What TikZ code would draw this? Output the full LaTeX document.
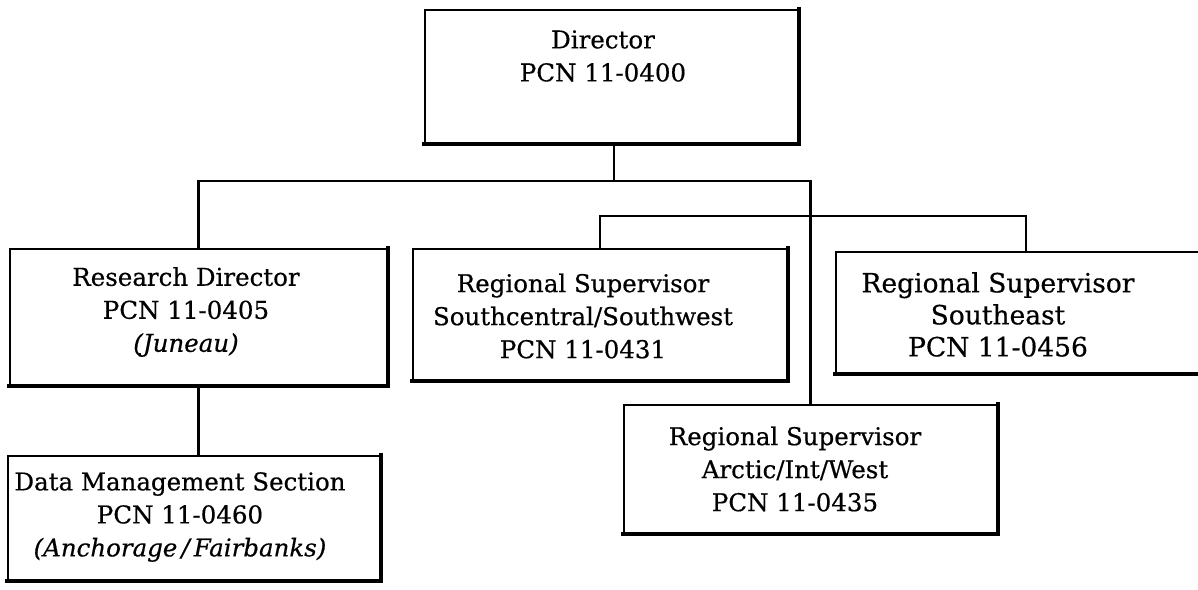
\documentclass[tikz,border=0pt]{standalone}
\usepackage{fontspec}
\setmainfont{DejaVu Serif}[FakeBold=0.5]
\begin{document}
\begin{tikzpicture}[x=1pt,y=-1pt,
  box/.style={draw, line width=2pt, inner sep=0pt},
  lbl/.style={align=center, inner sep=0pt, font=\fontsize{24.5}{33}\selectfont},
  biglbl/.style={align=center, inner sep=0pt, font=\fontsize{26.5}{32}\selectfont},
  edge/.style={line width=4.5pt, line cap=rect},
  conn/.style={line width=2.2pt}]
\useasboundingbox[fill=white] (0,0) rectangle (1198,589);
% boxes
\node[box, minimum width=373pt, minimum height=133pt] (dir) at (611.5,76.5) {};
\node[box, minimum width=377pt, minimum height=136pt] (rd) at (198.5,317) {};
\node[box, minimum width=372pt, minimum height=124pt] (dm) at (194,518) {};
\node[box, minimum width=374pt, minimum height=131pt] (sc) at (600,314.5) {};
\node[box, minimum width=380pt, minimum height=121pt] (se) at (1026,312.5) {};
\node[box, minimum width=373pt, minimum height=128pt] (ar) at (810.5,469) {};
% heavy lower and right edges
\foreach \n in {dir,rd,dm,sc,se,ar}
  \draw[edge] (\n.south west) -- (\n.south east) -- (\n.north east);
% texts
\node[lbl] (dirT) at (603,56) {Director\\PCN 11-0400};
\node[lbl] (rdT) at (186,312) {Research Director\\PCN 11-0405\\\textit{(Juneau)}};
\node[lbl] (dmT) at (180,517) {Data Management Section\\PCN 11-0460\\\textit{(Anchorage\,/\,Fairbanks)}};
\node[lbl] (scT) at (583,316) {Regional Supervisor\\Southcentral/Southwest\\PCN 11-0431};
\node[biglbl] (seT) at (998,314.5) {Regional Supervisor\\Southeast\\PCN 11-0456};
\node[lbl] (arT) at (795,469) {Regional Supervisor\\Arctic/Int/West\\PCN 11-0435};
% connectors
\coordinate (bus) at (614,181);
\coordinate (bus2) at (813,216);
\draw[conn] (dir.south -| bus) -- (bus);
\draw[conn] (rd.north) |- (bus) -| (ar.north);
\draw[conn] (sc.north) |- (bus2) -| (se.north);
\draw[conn] (rd.south) -- (dm.north -| rd.south);
\end{tikzpicture}
\end{document}
